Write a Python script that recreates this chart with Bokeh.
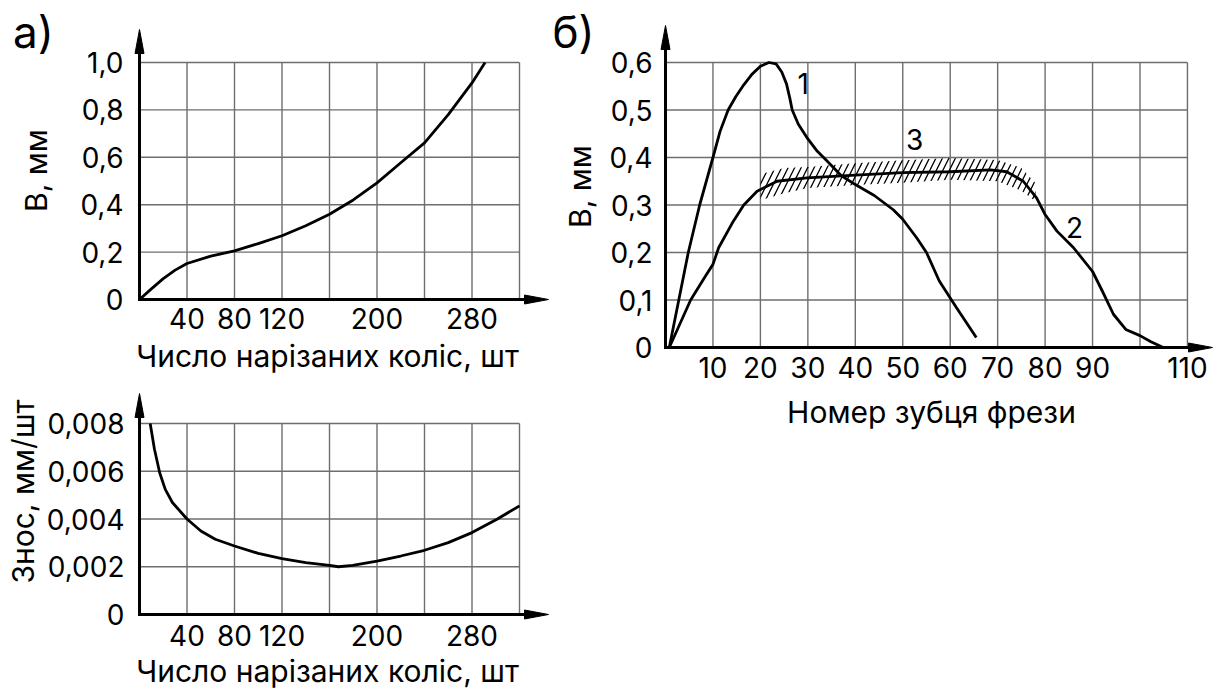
import math
from bokeh.plotting import figure
from bokeh.models import Range1d, FixedTicker, ColumnDataSource, Label
from bokeh.layouts import row, column
from bokeh.embed import file_html
from bokeh.resources import INLINE
from bokeh.core.properties import value

FONT = "Inter"
FS = "28px"
TITLE_FS = "30px"

# ---------------- data: panel a, top (wear vs number of gears) ----------------
wear_x = [0, 10, 20, 30, 40, 60, 80, 100, 120, 140, 160, 180, 200, 220, 240, 260, 280, 291]
wear_y = [0, 0.045, 0.088, 0.124, 0.152, 0.183, 0.205, 0.236, 0.269, 0.311, 0.36, 0.42,
          0.492, 0.577, 0.661, 0.78, 0.914, 1.0]
a_xticks = [40, 80, 120, 200, 280]
a_xgrid = [40, 80, 120, 160, 200, 240, 280, 320]
a1_yticks = [0, 0.2, 0.4, 0.6, 0.8, 1]
a1_ylabels = ["0", "0,2", "0,4", "0,6", "0,8", "1,0"]
a1_ygrid = [0.2, 0.4, 0.6, 0.8, 1]

# ---------------- data: panel a, bottom (wear rate) ----------------
rate_x = [9, 12.6, 17, 21.7, 27.7, 40, 51.7, 63.8, 80, 100, 120, 140, 160, 167.5, 179.5,
          200, 220, 240, 260, 280, 301, 320]
rate_y = [0.008, 0.00692, 0.00594, 0.00524, 0.00469, 0.0040, 0.0035, 0.00315, 0.00287,
          0.00256, 0.00234, 0.00217, 0.00206, 0.0020, 0.00206, 0.00224, 0.00245, 0.00269,
          0.00301, 0.00343, 0.00399, 0.00455]
a2_yticks = [0, 0.002, 0.004, 0.006, 0.008]
a2_ylabels = ["0", "0,002", "0,004", "0,006", "0,008"]
a2_ygrid = [0.002, 0.004, 0.006, 0.008]

# ---------------- data: panel b (wear per cutter tooth) ----------------
c1_x = [0.8, 2.8, 4.8, 7.2, 10, 11.5, 13.2, 14.8, 16.5, 18.2, 20, 21.8, 23.3, 24.5, 25.5,
        26.2, 26.7, 28, 29.8, 32, 34, 37, 40, 44, 48, 50, 53, 55, 57.7, 61.3, 65.5]
c1_y = [0, 0.1, 0.2, 0.3, 0.4, 0.455, 0.5, 0.528, 0.553, 0.575, 0.592, 0.6, 0.597, 0.58,
        0.555, 0.525, 0.5, 0.47, 0.442, 0.413, 0.393, 0.362, 0.343, 0.32, 0.29, 0.27, 0.23,
        0.2, 0.14, 0.084, 0.021]
c2_x = [0.8, 5.3, 8.4, 10, 11.2, 14.3, 16.5, 19.3, 23.5, 29.8, 40, 50, 60, 68.5, 71.9, 75.4,
        78.2, 80, 82.5, 86, 90, 92, 94.4, 97, 100, 102.3, 104.9]
c2_y = [0, 0.1, 0.15, 0.175, 0.21, 0.266, 0.3, 0.329, 0.35, 0.357, 0.363, 0.368, 0.37, 0.374,
        0.37, 0.35, 0.315, 0.28, 0.245, 0.21, 0.16, 0.12, 0.07, 0.038, 0.025, 0.012, 0]
band_x = [20, 25, 30, 40, 50, 60, 70, 75, 78]
band_lo = [0.31, 0.325, 0.336, 0.342, 0.347, 0.353, 0.35, 0.33, 0.308]
band_hi = [0.365, 0.378, 0.38, 0.388, 0.394, 0.399, 0.395, 0.378, 0.346]
curve_names = ["1", "2", "3"]
curve_name_x = [29, 86.2, 52.5]
curve_name_y = [0.555, 0.253, 0.437]
b_xticks = [10, 20, 30, 40, 50, 60, 70, 80, 90, 110]
b_xgrid = [10, 20, 30, 40, 50, 60, 70, 80, 90, 100, 110]
b_yticks = [0, 0.1, 0.2, 0.3, 0.4, 0.5, 0.6]
b_ylabels = ["0", "0,1", "0,2", "0,3", "0,4", "0,5", "0,6"]
b_ygrid = [0.1, 0.2, 0.3, 0.4, 0.5, 0.6]

GRID = "#6e6e6e"


def make_panel(width, height, origin, scale):
    """Frame covers the whole canvas; axes are pinned at data 0 (fixed_location)."""
    ox, oy = origin
    sx, sy = scale
    p = figure(width=width, height=height, output_backend="svg", toolbar_location=None,
               tools="", x_range=Range1d(-ox / sx, (width - ox) / sx),
               y_range=Range1d((oy - height) / sy, oy / sy))
    p.min_border = 0
    p.min_border_left = 0
    p.min_border_right = 0
    p.min_border_top = 0
    p.min_border_bottom = 0
    p.outline_line_color = None
    p.xgrid.visible = False
    p.ygrid.visible = False
    p.background_fill_color = "white"
    p.border_fill_color = "white"
    return p


def style_axes(p, xticks, yticks, ylabels, xstand, ystand):
    p.xaxis.fixed_location = 0
    p.yaxis.fixed_location = 0
    p.xaxis.ticker = FixedTicker(ticks=xticks)
    p.yaxis.ticker = FixedTicker(ticks=yticks)
    p.yaxis.major_label_overrides = dict(zip(yticks, ylabels))
    for ax in (p.xaxis[0], p.yaxis[0]):
        ax.axis_line_color = None
        ax.major_tick_line_color = None
        ax.minor_tick_line_color = None
        ax.major_tick_in = 0
        ax.major_tick_out = 0
        ax.minor_tick_in = 0
        ax.minor_tick_out = 0
        ax.major_label_text_font = FONT
        ax.major_label_text_font_size = FS
        ax.major_label_text_color = "black"
    p.xaxis.major_label_standoff = xstand
    p.yaxis.major_label_standoff = ystand


def add_title(p, text, x, y, size, vertical=False):
    p.add_layout(Label(x=x, y=y, text=text, text_font=FONT, text_font_size=size,
                       text_color="black", text_align="center", text_baseline="middle",
                       angle=(math.pi / 2 if vertical else 0)))


def grid_and_axes(p, xgrid, ygrid, xmax, ymax, xtip, ytip, scale):
    sx, sy = scale
    p.segment(x0=xgrid, y0=[0] * len(xgrid), x1=xgrid, y1=[ymax] * len(xgrid),
              line_color=GRID, line_width=1.4)
    p.segment(x0=[0] * len(ygrid), y0=ygrid, x1=[xmax] * len(ygrid), y1=ygrid,
              line_color=GRID, line_width=1.4)
    hl, hw = 24, 4.5
    p.segment(x0=[0, 0], y0=[0, 0], x1=[0, xtip - hl / sx], y1=[ytip - hl / sy, 0],
              line_color="black", line_width=3, line_cap="square")
    p.patch(x=[-hw / sx, 0, hw / sx], y=[ytip - hl / sy, ytip, ytip - hl / sy],
            fill_color="black", line_color="black", line_width=1)
    p.patch(x=[xtip - hl / sx, xtip, xtip - hl / sx], y=[hw / sy, 0, -hw / sy],
            fill_color="black", line_color="black", line_width=1)


# helper converting canvas pixel positions of titles to data units of a panel
def px_to_data(origin, scale, px, py):
    return (px - origin[0]) / scale[0], (origin[1] - py) / scale[1]


# ---------------- panel a, top ----------------
o1, s1 = (139, 299), (47.5 / 40, 237.0)
p1 = make_panel(549, 380, o1, s1)
grid_and_axes(p1, a_xgrid, a1_ygrid, 320, 1.0, (548 - 139) / s1[0], (299 - 29) / s1[1], s1)
p1.line(wear_x, wear_y, line_color="black", line_width=2.8, line_join="round")
style_axes(p1, a_xticks, a1_yticks, a1_ylabels, 8, 16)
add_title(p1, "Число нарізаних коліс, шт", *px_to_data(o1, s1, 327, 355), TITLE_FS)
add_title(p1, "В, мм", *px_to_data(o1, s1, 35, 170), TITLE_FS, vertical=True)
add_title(p1, "а)", *px_to_data(o1, s1, 33, 31), "44px")

# ---------------- panel a, bottom ----------------
o2, s2 = (139, 234), (47.5 / 40, 191.0 / 0.008)
p2 = make_panel(549, 309, o2, s2)
grid_and_axes(p2, a_xgrid, a2_ygrid, 320, 0.008, (548 - 139) / s2[0], (234 - 13) / s2[1], s2)
p2.line(rate_x, rate_y, line_color="black", line_width=2.8, line_join="round")
style_axes(p2, a_xticks, a2_yticks, a2_ylabels, 10, 15)
add_title(p2, "Число нарізаних коліс, шт", *px_to_data(o2, s2, 327, 290), TITLE_FS)
add_title(p2, "Знос, мм/шт", *px_to_data(o2, s2, 22, 111), TITLE_FS, vertical=True)

# ---------------- panel b ----------------
o3, s3 = (116, 347), (47.45 / 10, 475.0)
p3 = make_panel(673, 689, o3, s3)
grid_and_axes(p3, b_xgrid, b_ygrid, 110, 0.6, (663 - 116) / s3[0], (347 - 25) / s3[1], s3)
p3.varea(x=band_x, y1=band_lo, y2=band_hi, fill_color=None, fill_alpha=0,
         hatch_pattern="/", hatch_color="black", hatch_weight=1.3, hatch_scale=13)
p3.line(c1_x, c1_y, line_color="black", line_width=2.8, line_join="round")
p3.line(c2_x, c2_y, line_color="black", line_width=2.8, line_join="round")
names = ColumnDataSource(dict(x=curve_name_x, y=curve_name_y, t=curve_names))
p3.text(x="x", y="y", text="t", source=names, text_font=value(FONT),
        text_font_size=FS, text_align="center", text_baseline="middle",
        text_color="black")
style_axes(p3, b_xticks, b_yticks, b_ylabels, 9, 13)
add_title(p3, "Номер зубця фрези", *px_to_data(o3, s3, 382, 411), TITLE_FS)
add_title(p3, "В, мм", *px_to_data(o3, s3, 30, 186), TITLE_FS, vertical=True)
add_title(p3, "б)", *px_to_data(o3, s3, 24, 31), "44px")

layout = row(column(p1, p2), p3)
open("out.html", "w").write(file_html(layout, INLINE))
